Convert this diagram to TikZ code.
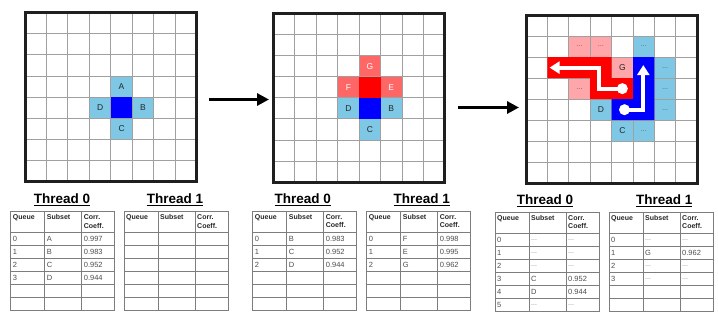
\documentclass[tikz,border=0pt]{standalone}
\usepackage{fontspec}
\setmainfont{Liberation Sans}
\usetikzlibrary{arrows.meta}
\definecolor{lblue}{RGB}{126,200,230}
\definecolor{pinkA}{RGB}{255,102,102}
\definecolor{pinkB}{RGB}{255,166,170}
\definecolor{gridgray}{RGB}{160,160,160}
\definecolor{tabgray}{RGB}{125,125,125}
\newcommand\tdd{\fontsize{7}{7}\selectfont\textcolor{black!50}{...}}
\tikzset{
  gridln/.style={draw=gridgray, line width=0.9pt},
  gborder/.style={draw=black!88, line width=3pt},
  lbl/.style={font=\fontsize{8.5}{9}\selectfont, text=black!85, inner sep=0pt},
  wlbl/.style={lbl, text=white},
  cdots/.style={font=\fontsize{7.5}{7.5}\selectfont, text=black!60, inner sep=0pt},
  bigarrow/.style={line width=3.5pt, -{Triangle[length=12pt,width=12pt]}},
  warrow/.style={draw=white, line width=4pt, line join=miter, -{Triangle[length=10pt,width=12pt]}},
  tabln/.style={draw=tabgray, line width=0.8pt},
  thead/.style={font=\fontsize{7}{8.5}\selectfont\bfseries, text=black!85, anchor=north west, inner sep=0pt, align=left},
  tdat/.style={font=\fontsize{7.5}{8}\selectfont, text=black!70, anchor=west, inner sep=0pt},
  ttitle/.style={font=\fontsize{13.5}{16}\selectfont\bfseries, inner sep=0pt, anchor=base}
}
\newcommand\gridlines{%
  \foreach \i in {1,...,7} {\draw[gridln] (\i,0) -- (\i,8); \draw[gridln] (0,\i) -- (8,\i);}}
\newcommand\qframe[3]{%
  \begin{scope}[shift={(#2,#3)}]
    \draw[tabln] (0,0) rectangle (104,99);
    \draw[tabln] (34,0) -- (34,99) (71,0) -- (71,99);
    \foreach \r in {21,34,47,60,73,86} {\draw[tabln] (0,\r) -- (104,\r);}
    \node[thead] (#1q) at (2,3) {Queue};
    \node[thead] (#1s) at (36,3) {Subset};
    \node[thead] (#1c) at (73,3) {Corr.\\Coeff.};
  \end{scope}}
\newcommand\qrows[4]{%
  \begin{scope}[shift={(#2,#3)}]
    \foreach \q/\s/\c [count=\i from 0] in {#4} {
      \node[tdat] (#1r\i q) at (2,{27.5+13*\i}) {\q};
      \node[tdat] (#1r\i s) at (36,{27.5+13*\i}) {\s};
      \node[tdat] (#1r\i c) at (73,{27.5+13*\i}) {\c};
    }
  \end{scope}}
\begin{document}
\begin{tikzpicture}[x=1pt,y=-1pt]
\useasboundingbox (0,0) rectangle (718,330);

% ---------- grid 1
\begin{scope}[shift={(25,12.7)}, x=21.46pt, y=-21.12pt]
  \coordinate (g1) at (4,4);
  \fill[lblue] (4,3) rectangle ++(1,1) (3,4) rectangle ++(1,1) (5,4) rectangle ++(1,1) (4,5) rectangle ++(1,1);
  \gridlines
  \fill[blue] (4,4) rectangle ++(1,1);
  \node[lbl] (g1A) at (4.5,3.5) {A};
  \node[lbl] (g1D) at (3.5,4.5) {D};
  \node[lbl] (g1B) at (5.5,4.5) {B};
  \node[lbl] (g1C) at (4.5,5.5) {C};
  \draw[gborder] (0,0) rectangle (8,8);
\end{scope}

% ---------- grid 2
\begin{scope}[shift={(273.3,13.3)}, x=21.46pt, y=-21.12pt]
  \coordinate (g2) at (4,4);
  \fill[lblue] (3,4) rectangle ++(1,1) (5,4) rectangle ++(1,1) (4,5) rectangle ++(1,1);
  \fill[pinkA] (4,2) rectangle ++(1,1) (3,3) rectangle ++(1,1) (5,3) rectangle ++(1,1);
  \gridlines
  \fill[red] (4,3) rectangle ++(1,1);
  \fill[blue] (4,4) rectangle ++(1,1);
  \node[wlbl] (g2G) at (4.5,2.5) {G};
  \node[wlbl] (g2F) at (3.5,3.5) {F};
  \node[wlbl] (g2E) at (5.5,3.5) {E};
  \node[lbl] (g2D) at (3.5,4.5) {D};
  \node[lbl] (g2B) at (5.5,4.5) {B};
  \node[lbl] (g2C) at (4.5,5.5) {C};
  \draw[gborder] (0,0) rectangle (8,8);
\end{scope}

% ---------- grid 3
\begin{scope}[shift={(526,15)}, x=21.41pt, y=-21.04pt]
  \coordinate (g3) at (4,4);
  \fill[pinkB] (2,1) rectangle ++(1,1) (3,1) rectangle ++(1,1) (4,2) rectangle ++(1,1) (2,3) rectangle ++(1,1);
  \fill[lblue] (5,1) rectangle ++(1,1) (6,2) rectangle ++(1,1) (6,3) rectangle ++(1,1) (6,4) rectangle ++(1,1)
               (3,4) rectangle ++(1,1) (4,5) rectangle ++(1,1) (5,5) rectangle ++(1,1);
  \gridlines
  \fill[red] (1,2) rectangle (4,3) (3,3) rectangle (5,4);
  \fill[blue] (5,2) rectangle (6,5) (4,4) rectangle (5,5);
  \node[cdots] (g3p1) at (2.5,1.5) {...};
  \node[cdots] (g3p2) at (3.5,1.5) {...};
  \node[lbl] (g3G) at (4.5,2.5) {G};
  \node[cdots] (g3p3) at (2.5,3.5) {...};
  \node[cdots] (g3b1) at (5.5,1.5) {...};
  \node[cdots] (g3b2) at (6.5,2.5) {...};
  \node[cdots] (g3b3) at (6.5,3.5) {...};
  \node[cdots] (g3b4) at (6.5,4.5) {...};
  \node[lbl] (g3D) at (3.5,4.5) {D};
  \node[lbl] (g3C) at (4.5,5.5) {C};
  \node[cdots] (g3b5) at (5.5,5.5) {...};
  % white path arrows
  \coordinate (rs) at (4.5,3.5);
  \coordinate (re) at (1.1,2.5);
  \draw[warrow] (rs) -- (3.4,3.5) -- (3.4,2.5) -- (re);
  \fill[white] (rs) circle (5.5pt);
  \coordinate (bs) at (4.6,4.5);
  \coordinate (be) at (5.48,2.38);
  \draw[warrow] (bs) -- (5.48,4.5) -- (be);
  \fill[white] (bs) circle (5.5pt);
  \draw[gborder] (0,0) rectangle (8,8);
\end{scope}

% ---------- arrows between grids
\coordinate (a1s) at (209,99.5);
\coordinate (a1e) at (269,99.5);
\draw[bigarrow] (a1s) -- (a1e);
\coordinate (a2s) at (458,107.5);
\coordinate (a2e) at (519,107.5);
\draw[bigarrow] (a2s) -- (a2e);

% ---------- titles
\node[ttitle] (s1t0) at (62,203.3) {\underline{Thread 0}};
\node[ttitle] (s1t1) at (175,203.3) {\underline{Thread 1}};
\node[ttitle] (s2t0) at (302.7,203.3) {\underline{Thread 0}};
\node[ttitle] (s2t1) at (421.7,203.3) {\underline{Thread 1}};
\node[ttitle] (s3t0) at (545,204.3) {\underline{Thread 0}};
\node[ttitle] (s3t1) at (664.3,204.3) {\underline{Thread 1}};

% ---------- tables
\qframe{ta}{10.7}{211.7}
\qrows{ta}{10.7}{211.7}{0/A/0.997, 1/B/0.983, 2/C/0.952, 3/D/0.944}
\qframe{tb}{124}{211.7}
\qframe{tc}{252.7}{211}
\qrows{tc}{252.7}{211}{0/B/0.983, 1/C/0.952, 2/D/0.944}
\qframe{td}{366.7}{211}
\qrows{td}{366.7}{211}{0/F/0.998, 1/E/0.995, 2/G/0.962}
\qframe{te}{495}{212.3}
\qrows{te}{495}{212.3}{0/\tdd/\tdd, 1/\tdd/\tdd, 2/\tdd/\tdd, 3/C/0.952, 4/D/0.944, 5/\tdd/\tdd}
\qframe{tf}{609}{212.3}
\qrows{tf}{609}{212.3}{0/\tdd/\tdd, 1/G/0.962, 2/\tdd/\tdd, 3/\tdd/\tdd}
\end{tikzpicture}
\end{document}
